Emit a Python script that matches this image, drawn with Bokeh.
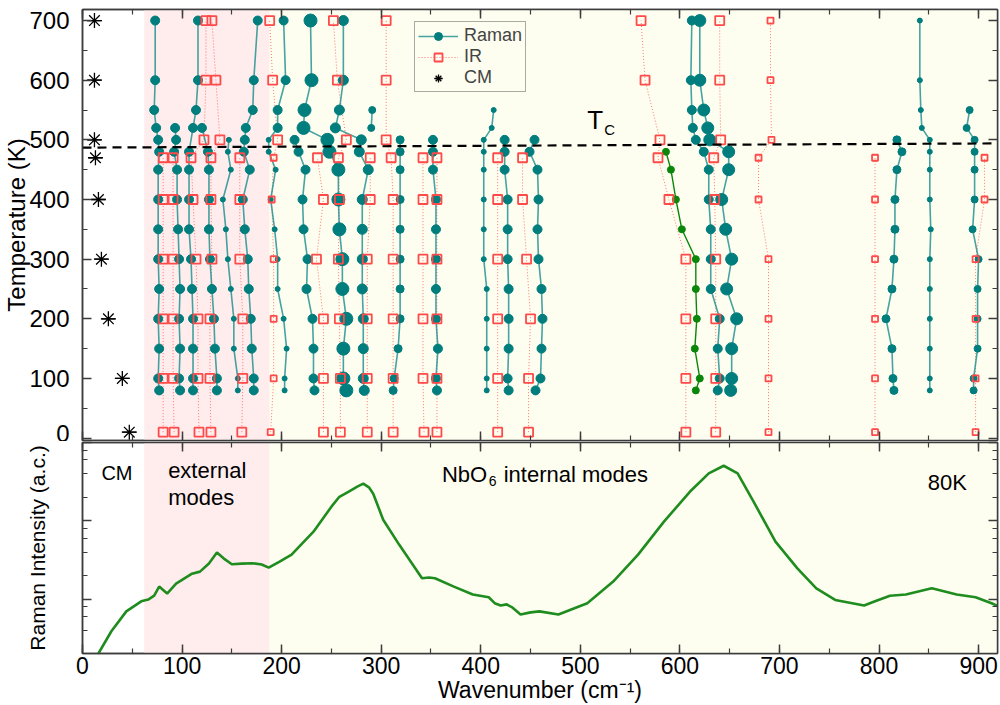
import numpy as np
from bokeh.plotting import figure
from bokeh.layouts import column
from bokeh.models import (Range1d, LinearAxis, SingleIntervalTicker, LogTicker,
                          BoxAnnotation, Label, Legend, LegendItem, CustomJSTickFormatter)
from bokeh.embed import file_html
from bokeh.resources import INLINE

# ---------------- data ----------------
T_RAMAN = [80, 100, 150, 200, 250, 300, 350, 400, 450, 480, 500, 520, 550, 600, 700]
N = None
raman_075 = [77, 76, 77, 76, 77, 76, 76, 76, 76, 77, 76, 74, 72, 73, 73]
raman_095 = [98, 97, 98, 97, 98, 97, 96, 95, 95, 92, 94, 93, N, N, N]
raman_110 = [111, 111, 111, 111, 110, 109, 107, 107, 107, 107, N, 111, 114, 116, 116]
raman_130 = [135, 135, 133, 132, 130, 128, 127, 127, 127, 126, N, 120, N, N, N]
raman_150 = [156, 156, 152, 152, 149, 146, 144, 141, 149, 146, 147, N, N, N, N]
raman_168 = [172, 172, 170, 169, 167, 166, 163, 161, 168, 162, 163, 164, 171, 172, 176]
raman_195 = [203, 203, 205, 202, 196, 196, 193, 189, 194, 187, 187, 196, 196, 204, 202]
raman_225 = [233, 232, 232, 231, 225, 226, 222, 221, 224, 217, 213, N, N, N, N]
raman_255 = [265, 262, 262, 265, 261, 261, 258, 257, 257, 248, 246, 222, 223, 230, 229]
raman_280 = [283, 282, 282, 282, 281, 281, 281, 281, 287, 278, 280, 254, 258, 262, 262]
raman_290 = [N, N, N, N, N, N, N, N, N, N, N, 290, 291, N, N]
raman_318 = [312, 313, 317, 319, 319, 319, 319, 319, 319, 319, 319, N, N, N, N]
raman_355 = [356, 355, 357, 355, 355, 355, 355, 355, 352, 352, 352, N, N, N, N]
raman_405 = [406, 406, 406, 406, 406, 403, 403, 403, 403, 403, 403, 411, 413, N, N]
raman_427 = [428, 427, 428, 428, 428, 427, 427, 427, 424, 424, 424, N, N, N, N]
raman_458 = [455, 460, 461, 462, 461, 458, 457, 458, 457, 449, 454, N, N, N, N]
raman_soft = [616, 620, 615, 617, 616, 616, 602, 596, 591, 586, N, N, N, N, N]
raman_630 = [638, 640, 638, 640, 631, 631, 631, 629, 629, 624, 616, 613, 612, 611, 612]
raman_645 = [651, 652, 652, 657, 647, 652, 646, 642, 649, 649, 630, 628, 624, 620, 620]
raman_815 = [815, 814, 813, 807, 813, 815, 816, 816, 818, 823, 818, N, N, N, N]
raman_850 = [851, 851, 851, 851, 851, 851, 852, 851, 851, 851, 851, 843, 842, 841, 841]
raman_895 = [895, 895, 899, 899, 899, 900, 894, 896, 896, 896, 896, 888, 891, N, N]

T_IR = [10, 100, 200, 300, 400, 470, 500, 600, 700]
ir_081 = [81, 81, 81, 81, 81, 81, N, N, N]
ir_091 = [92, 91, 91, 91, 91, 91, N, N, N]
ir_115 = [117, 116, 116, 114, 111, 109, 122, 124, 124]
ir_129 = [129, 128, 128, 130, 129, 129, 138, 134, 130]
ir_160 = [160, 161, 161, 158, 158, 158, N, N, N]
ir_190 = [189, 192, 192, 192, 190, 192, 196, 191, 188]
ir_240 = [242, 242, 242, 235, 242, 236, N, N, N]
ir_258 = [259, 259, 258, 257, 258, 257, 265, 256, 252]
ir_287 = [286, 286, 286, 286, 289, 289, N, N, N]
ir_310 = [312, 312, 312, 312, 312, 310, 305, 305, 305]
ir_342 = [343, 342, 342, 342, 342, 342, N, N, N]
ir_356 = [356, 356, 356, 356, 356, 356, N, N, N]
ir_417 = [417, 417, 417, 417, 417, 417, N, N, N]
ir_446 = [448, 448, 450, 446, 442, 442, N, N, N]
ir_600 = [606, 606, 606, 606, 589, 578, 580, 565, 561]
ir_637 = [636, 636, 636, 636, 635, 634, 641, 640, 640]
ir_688 = [689, 689, 689, 689, 679, 679, 692, 691, 691]
ir_796 = [796, 796, 796, 796, 796, 796, N, N, N]
ir_900 = [897, 897, 897, 897, 906, 906, N, N, N]

T_CM = [10, 100, 200, 300, 400, 470, 500, 600, 700]
cm_wn = [47, 40, 26, 19, 16, 13, 12, 12, 12]

TC_T = [487, 494]          # transition line (left / right end)
TC_WN = [0, 919]

spec_wn = [16, 29, 44, 59, 66, 72, 77, 85, 94, 110, 118, 127, 135, 142, 150, 160, 171, 180,
           187, 198, 210, 232, 250, 258, 267, 276, 282, 288, 292, 302, 318, 341, 348, 354,
           373, 392, 408, 414, 420, 426, 432, 440, 450, 459, 478, 507, 533, 558, 584, 610,
           629, 644, 658, 674, 696, 718, 737, 756, 785, 796, 811, 827, 853, 878, 897, 913, 920]
spec_int = [2.03, 3.9, 7.0, 9.4, 9.9, 11.1, 14.5, 11.8, 15.8, 21.2, 22.5, 28.5, 39.4, 33.0, 27.9,
            28.5, 28.8, 27.7, 25.3, 30.2, 37.1, 72.8, 151.7, 203, 235, 273, 298, 265, 222, 103.5,
            49.8, 18.5, 18.9, 18.5, 14.5, 11.5, 10.6, 8.9, 8.3, 8.6, 7.8, 6.4, 6.8, 7.0, 6.4, 8.9,
            16.8, 37.1, 97.7, 235, 403, 505, 403, 176, 54.3, 24.8, 13.8, 9.8, 8.3, 9.4, 11.1, 11.5,
            13.8, 11.5, 10.6, 8.9, 8.1]

# ---------------- styles ----------------
FONT = "Liberation Sans"
TEAL = "#007d7d"
TEAL_LINE = "#168c8c"
RED = "#ff4a4a"
GREEN = "#0a870a"
PINK = "#ffeded"
IVORY = "#fefef0"
FRAME = "#3c3c3c"
EXT_BAND = (62, 188)

raman_series = [
    (raman_075, 9), (raman_095, 9), (raman_110, 9), (raman_130, 9), (raman_150, 5),
    (raman_168, 9), (raman_195, [5] * 11 + [9] * 4), (raman_225, 9), (raman_255, 13),
    (raman_280, 10), (raman_290, 7), (raman_318, 8), (raman_355, 9), (raman_405, 5),
    (raman_427, 9), (raman_458, 9), (raman_630, 9), (raman_645, 12), (raman_815, 8),
    (raman_850, 5), (raman_895, 7),
]
ir_series = [
    (ir_081, 9), (ir_091, 9), (ir_115, 9), (ir_129, 9), (ir_160, 9), (ir_190, [6] * 6 + [9] * 3),
    (ir_240, 9), (ir_258, 9), (ir_287, 9), (ir_310, 9), (ir_342, 9), (ir_356, 9), (ir_417, 9),
    (ir_446, 9), (ir_600, 9), (ir_637, 9), (ir_688, 6), (ir_796, 6), (ir_900, 6),
]


def clean(xs, ts, size):
    x = np.array(xs, dtype=float)
    t = np.array(ts, dtype=float)
    m = ~np.isnan(x)
    if isinstance(size, list):
        size = np.array(size, dtype=float)[m]
    return x[m], t[m], size


def style_axis(ax, labels=True, font_size="22px"):
    ax.major_tick_in = 9
    ax.major_tick_out = 0
    ax.minor_tick_in = 5
    ax.minor_tick_out = 0
    ax.axis_line_color = FRAME
    ax.axis_line_width = 1.5
    ax.major_tick_line_color = FRAME
    ax.major_tick_line_width = 1.5
    ax.minor_tick_line_color = FRAME
    ax.minor_tick_line_width = 1.2
    ax.major_label_text_font = FONT
    ax.major_label_text_color = "black"
    ax.axis_label_text_font = FONT
    ax.axis_label_text_font_style = "normal"
    ax.axis_label_text_color = "black"
    if labels:
        ax.major_label_text_font_size = font_size
    else:
        ax.formatter = CustomJSTickFormatter(code="return ''")
        ax.major_label_text_font_size = "1px"
        ax.major_label_standoff = 0


def add_bands(p):
    p.add_layout(BoxAnnotation(left=EXT_BAND[0], right=EXT_BAND[1], fill_color=PINK, fill_alpha=1,
                               line_alpha=0, level="underlay"))
    p.add_layout(BoxAnnotation(left=EXT_BAND[1], fill_color=IVORY, fill_alpha=1,
                               line_alpha=0, level="underlay"))


# ---------------- top panel ----------------
top = figure(width=1000, height=441, x_range=Range1d(0, 919), y_range=Range1d(-4, 718.5),
             output_backend="svg", toolbar_location=None,
             min_border_left=81, min_border_right=3, min_border_top=9, min_border_bottom=1)
top.grid.visible = False
top.outline_line_color = FRAME
top.outline_line_width = 1.5
top.background_fill_color = "white"
add_bands(top)

top.xaxis.ticker = SingleIntervalTicker(interval=100, num_minor_ticks=2)
top.yaxis.ticker = SingleIntervalTicker(interval=100, num_minor_ticks=2)
style_axis(top.xaxis[0], labels=False)
style_axis(top.yaxis[0], labels=True, font_size="24px")
top.yaxis.axis_label = "Temperature (K)"
top.yaxis.axis_label_text_font_size = "24px"
top.yaxis.major_label_standoff = 13
top.yaxis.axis_label_standoff = -4
ax_top = LinearAxis(ticker=SingleIntervalTicker(interval=100, num_minor_ticks=2))
style_axis(ax_top, labels=False)
top.add_layout(ax_top, "above")
ax_right = LinearAxis(ticker=SingleIntervalTicker(interval=100, num_minor_ticks=2))
style_axis(ax_right, labels=False)
top.add_layout(ax_right, "right")

# IR connecting lines (dotted) first
ir_handles = None
for xs, sz in ir_series:
    x, t, s = clean(xs, T_IR, sz)
    lr = top.line(x, t, line_color=RED, line_width=1.0, line_alpha=0.75, line_dash="1 2")
    if ir_handles is None:
        ir_handles = [lr]

raman_handles = None
for xs, sz in raman_series:
    x, t, s = clean(xs, T_RAMAN, sz)
    lr = top.line(x, t, line_color=TEAL_LINE, line_width=1.6, line_alpha=0.8)
    if raman_handles is None:
        raman_handles = [lr]

# soft mode (green)
xg, tg, _ = clean(raman_soft, T_RAMAN, 7)
top.line(xg, tg, line_color=GREEN, line_width=1.4)
top.scatter(xg, tg, size=7, marker="circle", fill_color=GREEN, line_color=GREEN)

for i, (xs, sz) in enumerate(raman_series):
    x, t, s = clean(xs, T_RAMAN, sz)
    sr = top.scatter(x, t, size=s, marker="circle", fill_color=TEAL, line_color=TEAL)
    if i == 0:
        raman_handles.append(sr)

for i, (xs, sz) in enumerate(ir_series):
    x, t, s = clean(xs, T_IR, sz)
    sr = top.scatter(x, t, size=s, marker="square", fill_alpha=0, line_color=RED, line_width=1.8)
    if i == 0:
        ir_handles.append(sr)

# CM stars
cm1 = top.scatter(cm_wn, T_CM, size=15, marker="asterisk", line_color="black", line_width=1.3)
cm2 = top.scatter(cm_wn, T_CM, size=14, marker="dash", line_color="black", line_width=1.3)

# Tc line
top.line(TC_WN, TC_T, line_color="black", line_width=2.2, line_dash="9 6")
top.add_layout(Label(x=507, y=534, text="T", text_font=FONT, text_font_size="26px",
                     text_baseline="alphabetic", text_color="black"))
top.add_layout(Label(x=524, y=517, text="C", text_font=FONT, text_font_size="15px",
                     text_baseline="alphabetic", text_color="black"))

legend = Legend(items=[LegendItem(label="Raman", renderers=raman_handles),
                       LegendItem(label="IR", renderers=ir_handles),
                       LegendItem(label="CM", renderers=[cm1, cm2])],
                location=(332, 348))
legend.label_text_font = FONT
legend.label_text_font_size = "18px"
legend.glyph_width = 40
legend.glyph_height = 20
legend.label_standoff = 6
legend.padding = 3
legend.spacing = 0
legend.margin = 0
legend.border_line_color = "#555555"
legend.border_line_width = 1
legend.background_fill_alpha = 0
top.add_layout(legend)

# ---------------- bottom panel ----------------
bot = figure(width=1000, height=264, x_range=top.x_range, y_range=Range1d(2.03, 1000),
             y_axis_type="log", output_backend="svg", toolbar_location=None,
             min_border_left=81, min_border_right=3, min_border_top=1, min_border_bottom=1)
bot.grid.visible = False
bot.outline_line_color = FRAME
bot.outline_line_width = 1.5
add_bands(bot)

bot.xaxis.ticker = SingleIntervalTicker(interval=100, num_minor_ticks=2)
style_axis(bot.xaxis[0], labels=True, font_size="23px")
bot.xaxis.major_label_standoff = 3
bot.xaxis.axis_label = "Wavenumber (cm\u207b\u00b9)"
bot.xaxis.axis_label_text_font_size = "23px"
bot.xaxis.axis_label_standoff = 0
bot.yaxis.ticker = LogTicker()
style_axis(bot.yaxis[0], labels=False)
bot.yaxis.axis_label = "Raman Intensity (a.c.)"
bot.yaxis.axis_label_text_font_size = "21px"
bot.yaxis.axis_label_standoff = 34
ax_b_top = LinearAxis(ticker=SingleIntervalTicker(interval=100, num_minor_ticks=2))
style_axis(ax_b_top, labels=False)
bot.add_layout(ax_b_top, "above")
ax_b_right = LinearAxis(ticker=LogTicker())
style_axis(ax_b_right, labels=False)
bot.add_layout(ax_b_right, "right")

bot.line(spec_wn, spec_int, line_color="#1e8c1e", line_width=2.6)

for txt, x, y, fs in [("CM", 19, 411, "20px"), ("external", 86, 436, "22px"),
                      ("modes", 86, 198, "22px"), ("NbO", 361, 388, "22px"),
                      ("internal modes", 423, 388, "22px"), ("80K", 849, 306, "22px")]:
    bot.add_layout(Label(x=x, y=y, text=txt, text_font=FONT, text_font_size=fs,
                         text_baseline="alphabetic", text_color="black"))
bot.add_layout(Label(x=408, y=325, text="6", text_font=FONT, text_font_size="14px",
                     text_baseline="alphabetic", text_color="black"))

layout = column(top, bot)
open("out.html", "w").write(file_html(layout, INLINE))
